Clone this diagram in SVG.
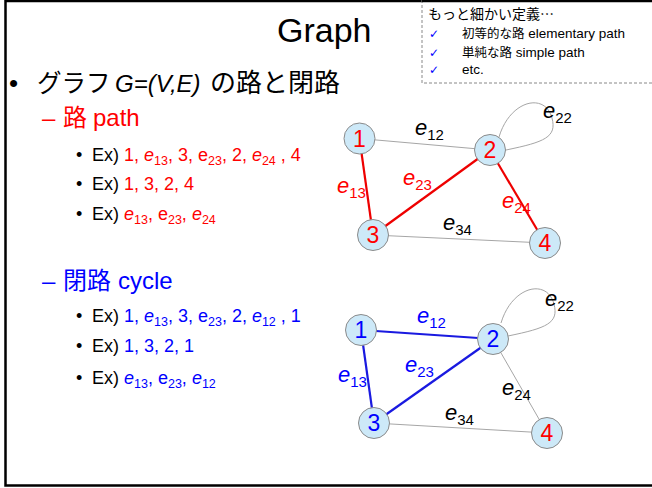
<svg xmlns="http://www.w3.org/2000/svg" width="652" height="488" viewBox="0 0 652 488">
<style>
text{font-family:"Liberation Sans","Noto Sans CJK JP",sans-serif;}
.jp{font-family:"Noto Sans CJK JP","Liberation Sans",sans-serif;}
.i{font-style:italic;}
.li{font-size:18px;fill:#000;}
.s{font-size:12.5px;}
.r{fill:#ff0000;}
.b{fill:#0000ff;}
.k{fill:#000;}
.edge{stroke:#a6a6a6;stroke-width:1;fill:none;}
.red{stroke:#ee0000;stroke-width:2.2;fill:none;}
.blue{stroke:#1a1ae0;stroke-width:2.2;fill:none;}
.node circle{fill:#cde9f8;stroke:#8a8a8a;stroke-width:1;}
.node text{font-size:23px;text-anchor:middle;}
.el{font-size:22px;}
.es{font-size:15px;font-style:normal;}
.chk{font-family:"DejaVu Sans",sans-serif;font-size:12px;fill:#0000ff;}
.bx{font-size:13.5px;fill:#000;}
.bx .jp{font-size:12.5px;}
</style>
<rect x="0" y="0" width="652" height="488" fill="#fff"/>
<rect x="5.5" y="1" width="660" height="484.5" fill="none" stroke="#000" stroke-width="2.5"/>
<g id="note">
<rect x="422" y="-2" width="240" height="85" fill="#fff" stroke="#888" stroke-width="1" stroke-dasharray="3,2"/>
<line x1="422" y1="1" x2="652" y2="1" stroke="#000" stroke-width="2.5"/>
<text class="jp" x="428" y="19" font-size="14">もっと細かい定義…</text>
<text class="chk" x="429" y="38">✓</text>
<text class="bx" x="462" y="38"><tspan class="jp">初等的な路</tspan> elementary path</text>
<text class="chk" x="429" y="56.5">✓</text>
<text class="bx" x="462" y="56.5"><tspan class="jp">単純な路</tspan> simple path</text>
<text class="chk" x="429" y="74">✓</text>
<text class="bx" x="462" y="74">etc.</text>
</g>
<text x="277" y="42" font-size="34">Graph</text>
<g id="text-left">
<text x="9" y="92" font-size="26">•</text>
<text font-size="26" y="92"><tspan class="jp" x="37" font-size="24.5">グラフ</tspan><tspan class="i" x="115" font-size="24">G=(V,E)</tspan><tspan class="jp" x="210">の路と閉路</tspan></text>
<text class="r" y="126" font-size="24"><tspan x="42">–</tspan><tspan class="jp" x="63">路</tspan><tspan x="93">path</tspan></text>
<text class="li" x="76" y="161">•</text>
<text class="li" x="92" y="161">Ex) <tspan class="r">1, <tspan class="i">e</tspan><tspan class="s" dy="4">13</tspan><tspan dy="-4">, 3, e</tspan><tspan class="s" dy="4">23</tspan><tspan dy="-4">, 2, </tspan><tspan class="i">e</tspan><tspan class="s" dy="4">24</tspan><tspan dy="-4"> , 4</tspan></tspan></text>
<text class="li" x="76" y="190">•</text>
<text class="li" x="92" y="190">Ex) <tspan class="r">1, 3, 2, 4</tspan></text>
<text class="li" x="76" y="220">•</text>
<text class="li" x="92" y="220">Ex) <tspan class="r"><tspan class="i">e</tspan><tspan class="s" dy="4">13</tspan><tspan dy="-4">, e</tspan><tspan class="s" dy="4">23</tspan><tspan dy="-4">, </tspan><tspan class="i">e</tspan><tspan class="s" dy="4">24</tspan></tspan></text>
<text class="b" y="289" font-size="24"><tspan x="42">–</tspan><tspan class="jp" x="63">閉路</tspan><tspan x="118">cycle</tspan></text>
<text class="li" x="76" y="322">•</text>
<text class="li" x="92" y="322">Ex) <tspan class="b">1, <tspan class="i">e</tspan><tspan class="s" dy="4">13</tspan><tspan dy="-4">, 3, e</tspan><tspan class="s" dy="4">23</tspan><tspan dy="-4">, 2, </tspan><tspan class="i">e</tspan><tspan class="s" dy="4">12</tspan><tspan dy="-4"> , 1</tspan></tspan></text>
<text class="li" x="76" y="352">•</text>
<text class="li" x="92" y="352">Ex) <tspan class="b">1, 3, 2, 1</tspan></text>
<text class="li" x="76" y="384">•</text>
<text class="li" x="92" y="384">Ex) <tspan class="b"><tspan class="i">e</tspan><tspan class="s" dy="4">13</tspan><tspan dy="-4">, e</tspan><tspan class="s" dy="4">23</tspan><tspan dy="-4">, </tspan><tspan class="i">e</tspan><tspan class="s" dy="4">12</tspan></tspan></text>
</g>
<g id="connectors">
<line class="edge" x1="359.5" y1="138.5" x2="490" y2="150"/>
<line class="edge" x1="373" y1="235" x2="545" y2="243"/>
<path class="edge" d="M499 137 C510 100 545 92 552 118 C557 137 545 142 506 150"/>
<line class="red" x1="359.5" y1="138.5" x2="373" y2="235"/>
<line class="red" x1="490" y1="150" x2="373" y2="235"/>
<line class="red" x1="490" y1="150" x2="545" y2="243"/>
<line class="edge" x1="493" y1="339" x2="547" y2="433"/>
<line class="edge" x1="374" y1="423" x2="547" y2="433"/>
<path class="edge" d="M501 323 C512 286 547 278 554 304 C559 323 547 328 508 336"/>
<line class="blue" x1="361" y1="330" x2="493" y2="339"/>
<line class="blue" x1="361" y1="330" x2="374" y2="423"/>
<line class="blue" x1="493" y1="339" x2="374" y2="423"/>
</g>
<g id="edge-labels">
<text class="el k i" x="415" y="135">e<tspan class="es" dy="5">12</tspan></text>
<text class="el k i" x="543" y="118">e<tspan class="es" dy="5">22</tspan></text>
<text class="el r i" x="337" y="193">e<tspan class="es" dy="5">13</tspan></text>
<text class="el r i" x="403" y="185">e<tspan class="es" dy="5">23</tspan></text>
<text class="el r i" x="502" y="208">e<tspan class="es" dy="5">24</tspan></text>
<text class="el k i" x="443" y="230">e<tspan class="es" dy="5">34</tspan></text>
<text class="el b i" x="417" y="323">e<tspan class="es" dy="5">12</tspan></text>
<text class="el k i" x="545" y="306">e<tspan class="es" dy="5">22</tspan></text>
<text class="el b i" x="338" y="382">e<tspan class="es" dy="5">13</tspan></text>
<text class="el b i" x="405" y="372">e<tspan class="es" dy="5">23</tspan></text>
<text class="el k i" x="502" y="395">e<tspan class="es" dy="5">24</tspan></text>
<text class="el k i" x="445" y="420">e<tspan class="es" dy="5">34</tspan></text>
</g>
<g id="t1" class="node"><circle cx="359.5" cy="138.5" r="15.5"/><text class="r" x="359.5" y="146.5">1</text></g>
<g id="t2" class="node"><circle cx="490" cy="150" r="15.5"/><text class="r" x="490" y="158">2</text></g>
<g id="t3" class="node"><circle cx="373" cy="235" r="15.5"/><text class="r" x="373" y="243">3</text></g>
<g id="t4" class="node"><circle cx="545" cy="243" r="15.5"/><text class="r" x="545" y="251">4</text></g>
<g id="c1" class="node"><circle cx="361" cy="330" r="15.5"/><text class="b" x="361" y="338">1</text></g>
<g id="c2" class="node"><circle cx="493" cy="339" r="15.5"/><text class="b" x="493" y="347">2</text></g>
<g id="c3" class="node"><circle cx="374" cy="423" r="15.5"/><text class="b" x="374" y="431">3</text></g>
<g id="c4" class="node"><circle cx="547" cy="433" r="15.5"/><text class="r" x="547" y="441">4</text></g>
</svg>
